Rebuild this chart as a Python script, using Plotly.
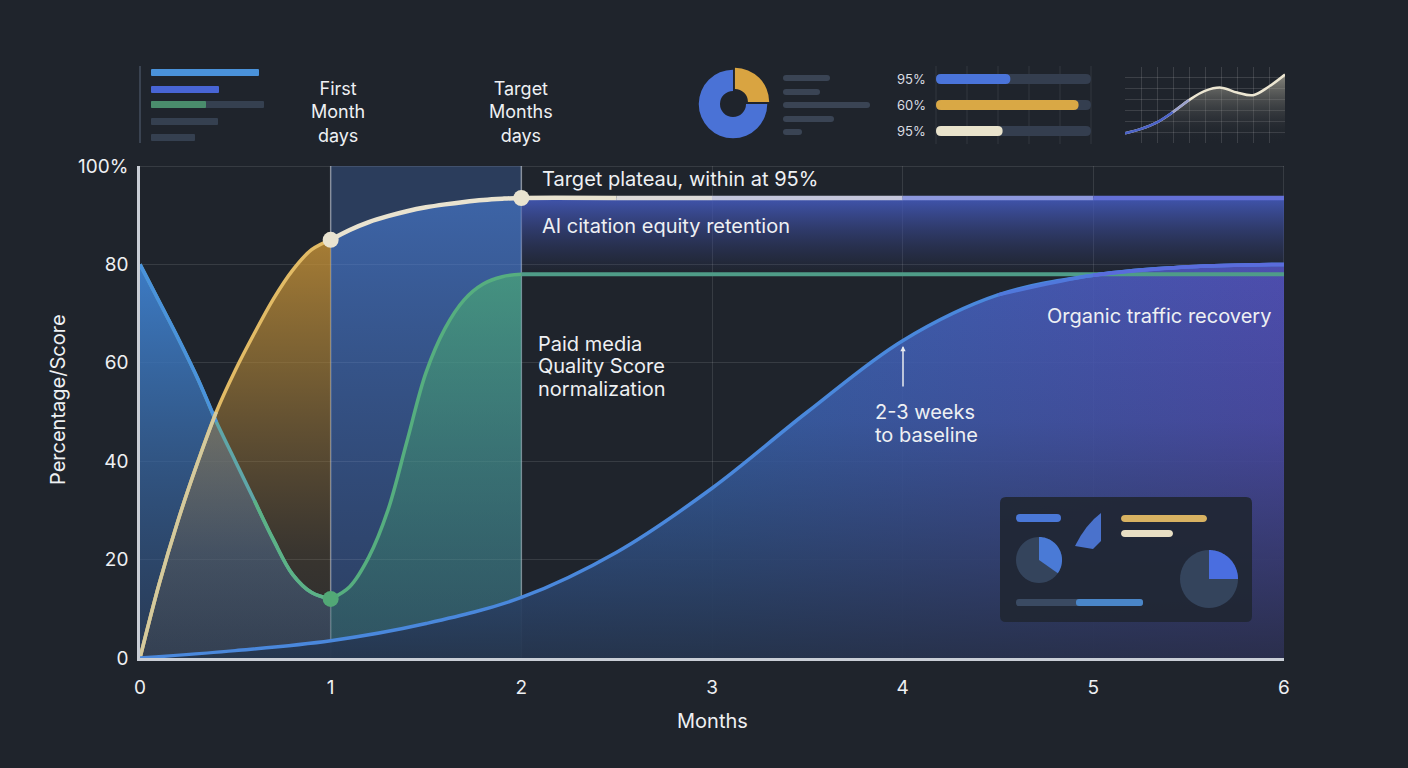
import math
import plotly.graph_objects as go

W, H = 1408, 768
BG = "#1f242c"
TXT = "#eef0f3"
FONT = "Inter"

# ---------------- data ----------------
months_ticks = [0, 1, 2, 3, 4, 5, 6]
score_ticks = [0, 20, 40, 60, 80, 100]
score_tick_text = ["0", "20", "40", "60", "80", "100%"]

# Paid media Quality Score: drop, then normalization
paid_x = [0, 0.1, 0.2, 0.3, 0.4, 0.5, 0.6, 0.7, 0.8, 0.9, 1.0,
          1.1, 1.2, 1.3, 1.4, 1.5, 1.6, 1.7, 1.8, 1.9, 2.0,
          2.5, 3, 3.5, 4, 4.5, 5, 5.5, 6]
paid_y = [80, 72.5, 65, 57, 48, 40, 32, 24, 17, 13.3, 12,
          14.5, 20.5, 30, 44, 58, 67, 72.8, 76, 77.5, 78,
          78, 78, 78, 78, 78, 78, 78, 78]

# First month ramp (gold)
gold_x = [0, 0.1, 0.2, 0.3, 0.4, 0.5, 0.6, 0.7, 0.8, 0.9, 1.0]
gold_y = [0, 15, 28, 39.5, 50, 58.5, 66, 73, 78.8, 83, 85]

# AI citation equity retention
ai_x = [1.0, 1.1, 1.2, 1.3, 1.4, 1.5, 1.6, 1.7, 1.8, 1.9, 2.0,
        2.5, 3, 3.5, 4, 4.5, 5, 5.5, 6]
ai_y = [85, 87, 88.6, 89.8, 90.8, 91.6, 92.2, 92.7, 93.1, 93.35, 93.5,
        93.5, 93.5, 93.5, 93.5, 93.5, 93.5, 93.5, 93.5]

# Organic traffic recovery
organic_x = [0, 0.5, 1, 1.5, 2, 2.5, 3, 3.5, 4, 4.5, 5, 5.5, 6]
organic_y = [0, 1.5, 3.5, 7, 12.3, 21.5, 34.5, 50, 64.5, 73.8, 77.8, 79.5, 80]

# decorative mini chart (top right)
mini_x = [0, 1, 2, 3, 4, 5, 6, 7, 8, 9, 10]
mini_y = [0.9, 1.3, 1.9, 2.85, 3.95, 4.8, 5.1, 4.65, 4.4, 5.2, 6.3]

# decorative progress bars
progress_labels = ["95%", "60%", "95%"]
progress_fill = [0.48, 0.92, 0.43]
progress_colors = ["#4a74da", "#d9a845", "#e9e3cc"]

# decorative donut
donut_values = [25, 75]
donut_colors = ["#d9a441", "#4a72d6"]

# ---------------- helpers ----------------
def P(xp, yp):
    return f"{xp / W:.5f},{1 - yp / H:.5f}"


def rrect_path(x0, y0, x1, y1, r):
    return (f"M {P(x0 + r, y0)} L {P(x1 - r, y0)} Q {P(x1, y0)} {P(x1, y0 + r)} "
            f"L {P(x1, y1 - r)} Q {P(x1, y1)} {P(x1 - r, y1)} L {P(x0 + r, y1)} "
            f"Q {P(x0, y1)} {P(x0, y1 - r)} L {P(x0, y0 + r)} Q {P(x0, y0)} {P(x0 + r, y0)} Z")


def wedge_path(cx, cy, r, a0, a1, n=48, center=True):
    pts = []
    for i in range(n + 1):
        a = math.radians(a0 + (a1 - a0) * i / n)
        pts.append(P(cx + r * math.sin(a), cy - r * math.cos(a)))
    if center:
        pts = [P(cx, cy)] + pts
    return "M " + " L ".join(pts) + " Z"


def pshape(path, color, layer="above"):
    return dict(type="path", xref="paper", yref="paper", path=path,
                fillcolor=color, line=dict(width=0), layer=layer)


def bar(x0, y0, x1, y1, color, r=3):
    return pshape(rrect_path(x0, y0, x1, y1, r), color)


def text(xp, yp, s, size=20, xanchor="left", color=TXT, **kw):
    d = dict(x=xp / W, y=1 - yp / H, xref="paper", yref="paper", text=s,
             showarrow=False, xanchor=xanchor, yanchor="middle",
             font=dict(family=FONT, size=size, color=color))
    d.update(kw)
    return d


fig = go.Figure()


def fill_trace(x, y, colorscale, gtype="vertical", xaxis="x", yaxis="y"):
    fig.add_trace(go.Scatter(
        x=x, y=y, mode="lines", line=dict(width=0, shape="spline"),
        fill="tozeroy", fillcolor="rgba(0,0,0,0)",
        fillgradient=dict(type=gtype, colorscale=colorscale),
        hoverinfo="skip", showlegend=False, xaxis=xaxis, yaxis=yaxis))


def line_trace(x, y, color, width, xaxis="x", yaxis="y", shape="spline"):
    fig.add_trace(go.Scatter(
        x=x, y=y, mode="lines", line=dict(color=color, width=width, shape=shape),
        hoverinfo="skip", showlegend=False, xaxis=xaxis, yaxis=yaxis))


# ---------------- fills ----------------
# AI citation, months 1-2 (column)
fill_trace(ai_x[0:11], ai_y[0:11],
           [[0, "rgba(60,100,180,0.05)"], [1, "rgba(72,124,212,0.62)"]])
# AI citation plateau, fading band
fill_trace(ai_x[10:], ai_y[10:],
           [[0, "rgba(31,36,44,0)"], [0.83, "rgba(50,60,120,0)"], [1, "rgba(68,90,188,0.9)"]])
# paid decline (blue)
fill_trace(paid_x[0:11], paid_y[0:11],
           [[0, "rgba(50,80,125,0.5)"], [0.5, "rgba(56,104,165,0.72)"], [1, "rgba(62,128,205,0.95)"]])
# gold ramp
fill_trace(gold_x, gold_y,
           [[0, "rgba(150,115,60,0.1)"], [0.25, "rgba(160,120,60,0.2)"],
            [0.7, "rgba(180,135,55,0.6)"], [1, "rgba(205,150,55,0.78)"]])
# paid normalization (green)
fill_trace(paid_x[10:21], paid_y[10:21],
           [[0, "rgba(55,130,100,0.3)"], [1, "rgba(75,175,115,0.65)"]])
# organic
fill_trace(organic_x, organic_y,
           [[0, "rgba(58,120,200,0.85)"], [0.5, "rgba(60,110,195,0.85)"], [1, "rgba(82,82,188,0.9)"]],
           gtype="horizontal")
fill_trace(organic_x, organic_y,
           [[0, "rgba(31,36,44,0.75)"], [0.6, "rgba(31,36,44,0.15)"], [1, "rgba(31,36,44,0)"]])

# ---------------- lines ----------------
line_trace(paid_x[20:], paid_y[20:], "#4f9c88", 4, shape="linear")
line_trace(paid_x[0:11], paid_y[0:11], "#5fa6a8", 3.5)
line_trace(paid_x[0:5], paid_y[0:5], "#4a92dc", 3.5)
line_trace(paid_x[6:11], paid_y[6:11], "#5cb286", 3.5)
line_trace(paid_x[10:21], paid_y[10:21], "#56ae7f", 3.5)

line_trace(gold_x, gold_y, "#e2bb66", 3.5)
line_trace(gold_x[0:5], gold_y[0:5], "#d4ca9e", 3.5)

line_trace(organic_x, organic_y, "#4a88dc", 3.5)
line_trace(organic_x[9:], organic_y[9:], "#5078dc", 3.5)
line_trace(organic_x[10:], organic_y[10:], "#5a6cdc", 3.5)

line_trace(ai_x[0:12], ai_y[0:12], "#e9e3d0", 4.5)
line_trace(ai_x[11:13], ai_y[11:13], "#dcdad8", 4.5, shape="linear")
line_trace(ai_x[12:15], ai_y[12:15], "#c4c6dc", 4.5, shape="linear")
line_trace(ai_x[14:17], ai_y[14:17], "#8d98de", 4.5, shape="linear")
line_trace(ai_x[16:], ai_y[16:], "#6470d6", 4.5, shape="linear")

# key points
fig.add_trace(go.Scatter(x=[ai_x[0], ai_x[10]], y=[ai_y[0], ai_y[10]], mode="markers",
                         marker=dict(size=16, color="#e9e3d0", line=dict(width=0)),
                         hoverinfo="skip", showlegend=False))
fig.add_trace(go.Scatter(x=[paid_x[10]], y=[paid_y[10]], mode="markers",
                         marker=dict(size=16, color="#52a876", line=dict(width=0)),
                         hoverinfo="skip", showlegend=False))

# ---------------- mini chart (top right) ----------------
fill_trace(mini_x, mini_y,
           [[0, "rgba(31,36,44,0)"], [1, "rgba(205,200,180,0.6)"]], xaxis="x2", yaxis="y2")
line_trace(mini_x, mini_y, "#ece6d2", 2.5, xaxis="x2", yaxis="y2")
line_trace(mini_x[0:4], mini_y[0:4], "#4a62c8", 2.5, xaxis="x2", yaxis="y2")
line_trace(mini_x[3:5], mini_y[3:5], "#9aa0cc", 2.5, xaxis="x2", yaxis="y2")

# ---------------- donut (top) ----------------
fig.add_trace(go.Pie(values=donut_values, marker=dict(colors=donut_colors, line=dict(width=0)),
                     hole=0.38, sort=False, direction="clockwise", pull=[0.08, 0],
                     textinfo="none", hoverinfo="skip", showlegend=False,
                     domain=dict(x=[(733 - 37) / W, (733 + 37) / W],
                                 y=[1 - (104 + 37) / H, 1 - (104 - 37) / H])))

# ---------------- shapes ----------------
shapes = []
# column highlight for month 1-2
shapes.append(dict(type="rect", xref="x", yref="y", x0=months_ticks[1], x1=months_ticks[2],
                   y0=0, y1=100, fillcolor="rgba(74,120,205,0.3)", line=dict(width=0),
                   layer="below"))
# emphasized month lines
for m in months_ticks[1:3]:
    shapes.append(dict(type="line", xref="x", yref="y", x0=m, x1=m, y0=0, y1=100,
                       line=dict(color="rgba(215,222,232,0.5)", width=1.5), layer="between"))
# top / right frame
shapes.append(dict(type="line", xref="x", yref="y", x0=0, x1=6, y0=100, y1=100,
                   line=dict(color="rgba(255,255,255,0.14)", width=1.5), layer="between"))
shapes.append(dict(type="line", xref="x", yref="y", x0=6, x1=6, y0=0, y1=100,
                   line=dict(color="rgba(255,255,255,0.14)", width=1.5), layer="between"))

# top-left mini bars
shapes.append(dict(type="line", xref="paper", yref="paper", x0=140 / W, x1=140 / W,
                   y0=1 - 143 / H, y1=1 - 66 / H, line=dict(color="#3a4351", width=2)))
shapes.append(bar(151, 69, 259, 76, "#4a92da", 1))
shapes.append(bar(151, 86, 219, 93, "#4865d5", 1))
shapes.append(bar(151, 101, 264, 108, "#354050", 1))
shapes.append(bar(151, 101, 206, 108, "#4a8c6c", 1))
shapes.append(bar(151, 118, 218, 125, "#354050", 1))
shapes.append(bar(151, 134, 195, 141, "#354050", 1))

# lines next to donut
for yc, x1 in zip([78, 92, 105, 119, 132], [830, 820, 870, 834, 802]):
    shapes.append(bar(783, yc - 3, x1, yc + 3, "#3a4454", 3))

# progress bars
for k in range(6):
    xg = 936 + 31 * k
    shapes.append(dict(type="line", xref="paper", yref="paper", x0=xg / W, x1=xg / W,
                       y0=1 - 144 / H, y1=1 - 66 / H,
                       line=dict(color="rgba(255,255,255,0.09)", width=1)))
for i, (yc, frac, col) in enumerate(zip([79, 105, 131], progress_fill, progress_colors)):
    shapes.append(bar(936, yc - 5, 1091, yc + 5, "#343e4f", 5))
    shapes.append(bar(936, yc - 5, 936 + (1091 - 936) * frac, yc + 5, col, 5))

# bottom-right inset panel
shapes.append(pshape(rrect_path(1000, 497, 1252, 622, 6), "rgba(32,39,52,0.93)"))
shapes.append(bar(1016, 514, 1061, 522, "#4a78d8", 4))
shapes.append(bar(1121, 515, 1207, 522, "#d8b262", 4))
shapes.append(bar(1121, 530, 1173, 537, "#e8dfc4", 4))
shapes.append(bar(1016, 599, 1143, 606, "#3a4a62", 3))
shapes.append(bar(1076, 599, 1143, 606, "#4a86c8", 3))
shapes.append(pshape(wedge_path(1039, 560, 23, 0, 360, center=False), "#34445c"))
shapes.append(pshape(wedge_path(1039, 560, 23, 0, 125), "#4a7ad6"))
shapes.append(pshape(wedge_path(1209, 579, 29, 0, 360, center=False), "#34445c"))
shapes.append(pshape(wedge_path(1209, 579, 29, 0, 90), "#4a6ee0"))
shapes.append(pshape(f"M {P(1075, 546)} Q {P(1086, 524)} {P(1101, 513)} L {P(1101, 541)} "
                     f"L {P(1093, 549)} Z", "#4a72cc"))

# ---------------- annotations ----------------
ann = []
ann.append(text(540, 179, "Target plateau, within at 95%"))
ann.append(text(540, 226, "AI citation equity retention"))
for yp, s in zip([344, 366, 389], ["Paid media", "Quality Score", "normalization"]):
    ann.append(text(536, yp, s))
ann.append(text(1273, 316, "Organic traffic recovery", xanchor="right"))
for yp, s in zip([412, 435], ["2-3 weeks", "to baseline"]):
    ann.append(text(873, yp, s))
ann.append(text(338, 112, "First<br>Month<br>days", size=18, xanchor="center"))
ann.append(text(521, 112, "Target<br>Months<br>days", size=18, xanchor="center"))
for yc, s in zip([79, 105, 131], progress_labels):
    ann.append(text(928, yc, s, size=13, xanchor="right", color="#d9dce2"))
# arrow
ann.append(dict(x=903 / W, y=1 - 346 / H, xref="paper", yref="paper", text="",
                showarrow=True, ax=0, ay=42, arrowhead=2, arrowsize=0.7,
                arrowwidth=1.5, arrowcolor="#e8eaee"))
# axis titles
ann.append(text(712, 721, "Months", size=20, xanchor="center"))
ann.append(text(58, 400, "Percentage/Score", size=20, xanchor="center", textangle=-90))

fig.update_layout(
    width=W, height=H, margin=dict(l=0, r=0, t=0, b=0),
    paper_bgcolor=BG, plot_bgcolor=BG,
    font=dict(family=FONT, color=TXT),
    showlegend=False, hovermode=False,
    shapes=shapes, annotations=ann,
    xaxis=dict(domain=[140 / W, 1284 / W], range=[0, 6], tickvals=months_ticks,
               showgrid=True, gridcolor="rgba(255,255,255,0.11)", gridwidth=1,
               zeroline=False, showline=True, linecolor="#c9ced6", linewidth=2.5,
               ticks="", ticklabelstandoff=10, automargin=False,
               tickfont=dict(family=FONT, size=19, color=TXT), fixedrange=True),
    yaxis=dict(domain=[1 - 658 / H, 1 - 166 / H], range=[0, 100], tickvals=score_ticks,
               ticktext=score_tick_text,
               showgrid=True, gridcolor="rgba(255,255,255,0.11)", gridwidth=1,
               zeroline=False, showline=True, linecolor="#c9ced6", linewidth=2.5,
               ticks="", ticklabelstandoff=5, automargin=False,
               tickfont=dict(family=FONT, size=19, color=TXT), fixedrange=True),
    xaxis2=dict(domain=[1125 / W, 1285 / W], range=[0, 10], dtick=1, anchor="y2",
                showgrid=True, gridcolor="rgba(255,255,255,0.13)", zeroline=False,
                showticklabels=False, showline=False, fixedrange=True),
    yaxis2=dict(domain=[1 - 143 / H, 1 - 67 / H], range=[0, 7], dtick=1, anchor="x2",
                showgrid=True, gridcolor="rgba(255,255,255,0.13)", zeroline=False,
                showticklabels=False, showline=False, fixedrange=True),
)

fig.write_html("out.html")
